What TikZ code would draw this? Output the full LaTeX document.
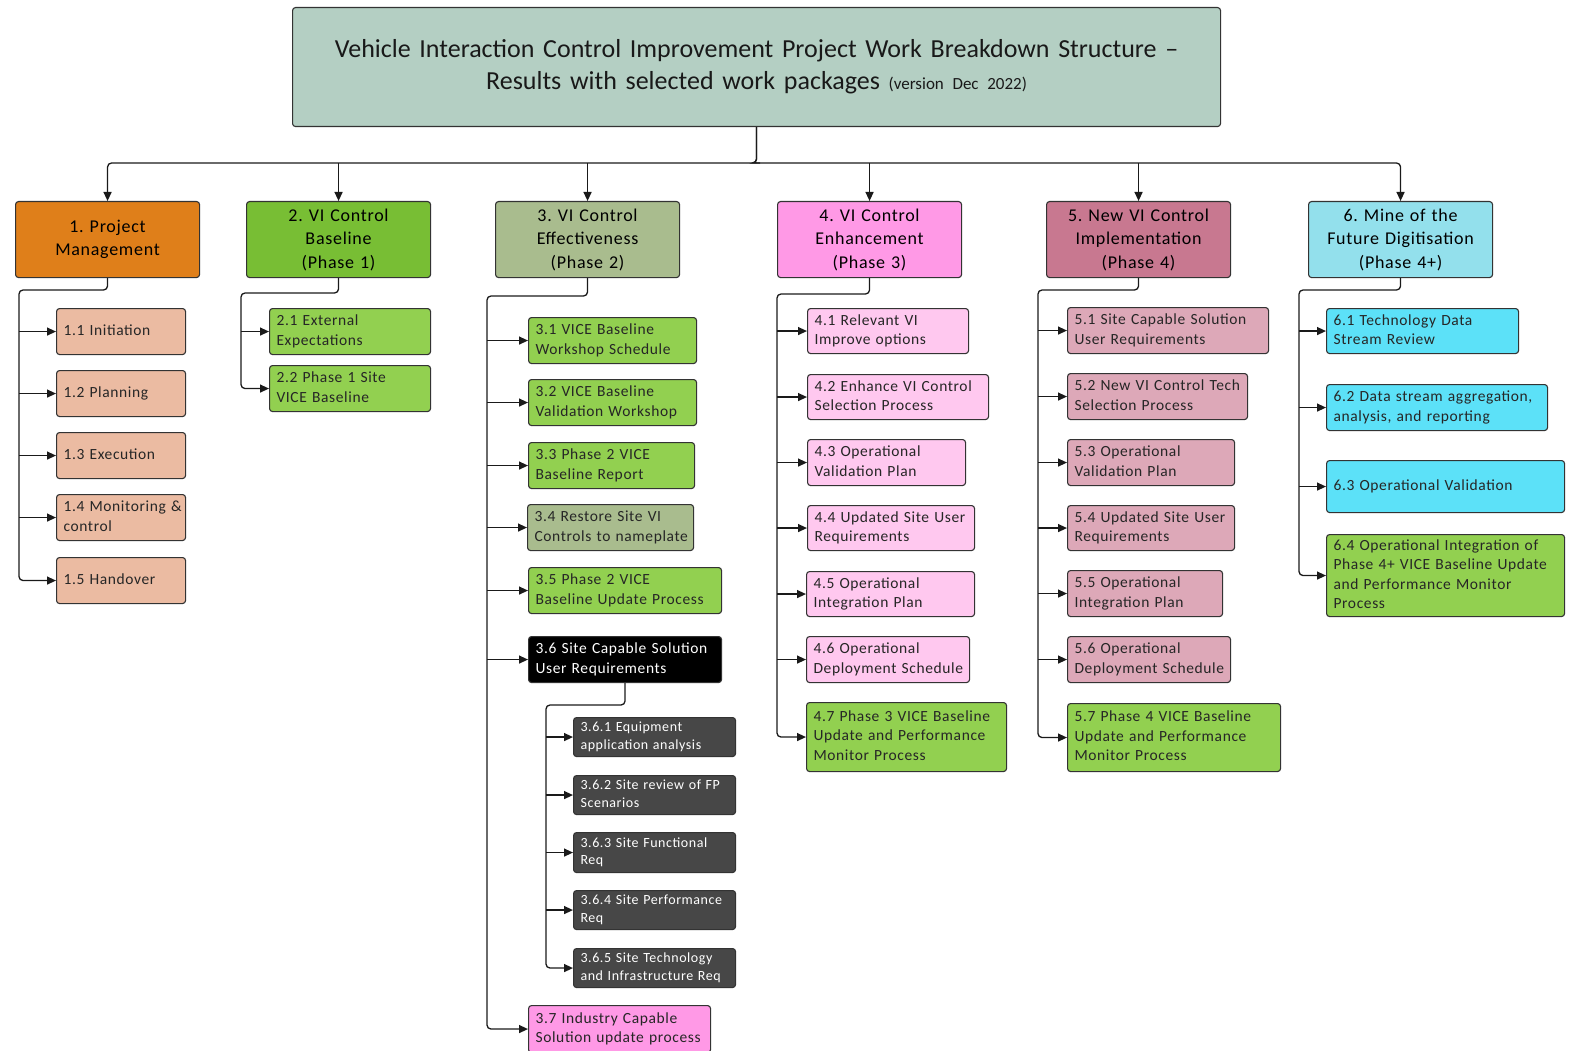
\documentclass[tikz,border=0pt]{standalone}
\usepackage{fontspec}
\setmainfont{Carlito}[LetterSpace=4]
\newfontfamily\titlefont{Carlito}
\usetikzlibrary{arrows.meta}
\definecolor{ttlfill}{HTML}{B4CFC3}
\definecolor{horange}{HTML}{DF7F1A}
\definecolor{hgreen}{HTML}{78BE34}
\definecolor{hsage}{HTML}{A9BC8E}
\definecolor{hpink}{HTML}{FF99E6}
\definecolor{hmauve}{HTML}{C87890}
\definecolor{hcyan}{HTML}{93E0EC}
\definecolor{cpeach}{HTML}{EBBBA2}
\definecolor{cgreen}{HTML}{92D050}
\definecolor{cdark}{HTML}{474747}
\definecolor{clpink}{HTML}{FFC8EF}
\definecolor{cmauve}{HTML}{DDA8B8}
\definecolor{ccyan}{HTML}{5CE1F8}
\definecolor{linec}{HTML}{1A1A1A}
\definecolor{borderc}{HTML}{333333}
\tikzset{
  conn/.style={draw=linec, line width=1.3pt},
  tip/.style={-{Triangle[length=9pt,width=8pt]}},
  box/.style={draw=borderc, line width=1.1pt, rounded corners=3pt},
  head/.style={box, align=center, font=\fontsize{18}{23.5}\selectfont, text=black},
  kid/.style={box, align=left, font=\fontsize{15.5}{19.5}\selectfont, text=black!85},
  sub/.style={box, fill=cdark, align=left, font=\fontsize{14}{17.5}\selectfont, text=white},
}
\newcommand\wbsbox[7]{%
  \pgfmathsetmacro\wbstw{#5-14}%
  \node[#2, anchor=north west, minimum width=#5pt, minimum height=#6pt,
        text width=\wbstw pt, inner xsep=7pt, inner ysep=0pt] (#1) at (#3,#4) {#7};}
\newcommand\wbskid[7]{%
  \pgfmathsetmacro\wbstw{#5-14}%
  \node[#2, anchor=north west, minimum width=#5pt, minimum height=#6pt,
        text width=\wbstw pt, inner xsep=7pt, inner ysep=0pt] (#1) at (#3,#4)
        {\begin{tabular}{@{}l@{}}#7\end{tabular}};}
\frenchspacing
\begin{document}
\begin{tikzpicture}[x=1pt,y=-1pt]
\useasboundingbox (0,0) rectangle (1572,1051);
% title
\wbsbox{title}{box, fill=ttlfill, align=center, text=black!90, font=\titlefont\fontsize{26}{32}\selectfont}{292}{7}{928}{119}{Vehicle Interaction Control Improvement Project Work Breakdown Structure –\\Results with selected work packages {\fontsize{17}{17}\selectfont(version Dec 2022)}}
% headers
\wbsbox{h1}{head, fill=horange}{15}{201}{184}{76}{1. Project\\Management}
\wbsbox{h2}{head, fill=hgreen}{246}{201}{184}{76}{2. VI Control\\Baseline\\(Phase 1)}
\wbsbox{h3}{head, fill=hsage}{495}{201}{184}{76}{3. VI Control\\Effectiveness\\(Phase 2)}
\wbsbox{h4}{head, fill=hpink}{777}{201}{184}{76}{4. VI Control\\Enhancement\\(Phase 3)}
\wbsbox{h5}{head, fill=hmauve}{1046}{201}{184}{76}{5. New VI Control\\Implementation\\(Phase 4)}
\wbsbox{h6}{head, fill=hcyan}{1308}{201}{184}{76}{6. Mine of the\\Future Digitisation\\(Phase 4+)}
% column 1
\wbskid{c11}{kid, fill=cpeach}{56}{308}{129}{46}{1.1 Initiation}
\wbskid{c12}{kid, fill=cpeach}{56}{370}{129}{46}{1.2 Planning}
\wbskid{c13}{kid, fill=cpeach}{56}{432}{129}{46}{1.3 Execution}
\wbskid{c14}{kid, fill=cpeach}{56}{494}{129}{46}{1.4 Monitoring \&\\control}
\wbskid{c15}{kid, fill=cpeach}{56}{557}{129}{46}{1.5 Handover}
% column 2
\wbskid{c21}{kid, fill=cgreen}{269}{308}{161}{46}{2.1 External\\Expectations}
\wbskid{c22}{kid, fill=cgreen}{269}{365}{161}{46}{2.2 Phase 1 Site\\VICE Baseline}
% column 3
\wbskid{c31}{kid, fill=cgreen}{528}{317}{168}{46}{3.1 VICE Baseline\\Workshop Schedule}
\wbskid{c32}{kid, fill=cgreen}{528}{379}{168}{46}{3.2 VICE Baseline\\Validation Workshop}
\wbskid{c33}{kid, fill=cgreen}{528}{442}{166}{46}{3.3 Phase 2 VICE\\Baseline Report}
\wbskid{c34}{kid, fill=hsage}{527}{504}{166}{46}{3.4 Restore Site VI\\Controls to nameplate}
\wbskid{c35}{kid, fill=cgreen}{528}{567}{193}{46}{3.5 Phase 2 VICE\\Baseline Update Process}
\wbskid{c36}{kid, fill=black, text=white}{528}{636}{193}{46}{3.6 Site Capable Solution\\User Requirements}
\wbskid{c361}{sub}{573}{717}{162}{39}{3.6.1 Equipment\\application analysis}
\wbskid{c362}{sub}{573}{775}{162}{39}{3.6.2 Site review of FP\\Scenarios}
\wbskid{c363}{sub}{573}{832}{162}{40}{3.6.3 Site Functional\\Req}
\wbskid{c364}{sub}{573}{890}{162}{39}{3.6.4 Site Performance\\Req}
\wbskid{c365}{sub}{573}{948}{162}{39}{3.6.5 Site Technology\\and Infrastructure Req}
\wbskid{c37}{kid, fill=hpink}{528}{1005}{182}{47}{3.7 Industry Capable\\Solution update process}
% column 4
\wbskid{c41}{kid, fill=clpink}{807}{308}{161}{45}{4.1 Relevant VI\\Improve options}
\wbskid{c42}{kid, fill=clpink}{807}{374}{181}{45}{4.2 Enhance VI Control\\Selection Process}
\wbskid{c43}{kid, fill=clpink}{807}{439}{158}{46}{4.3 Operational\\Validation Plan}
\wbskid{c44}{kid, fill=clpink}{807}{505}{167}{45}{4.4 Updated Site User\\Requirements}
\wbskid{c45}{kid, fill=clpink}{806}{571}{168}{45}{4.5 Operational\\Integration Plan}
\wbskid{c46}{kid, fill=clpink}{806}{636}{163}{46}{4.6 Operational\\Deployment Schedule}
\wbskid{c47}{kid, fill=cgreen}{806}{702}{200}{69}{4.7 Phase 3 VICE Baseline\\Update and Performance\\Monitor Process}
% column 5
\wbskid{c51}{kid, fill=cmauve}{1067}{307}{201}{46}{5.1 Site Capable Solution\\User Requirements}
\wbskid{c52}{kid, fill=cmauve}{1067}{373}{180}{46}{5.2 New VI Control Tech\\Selection Process}
\wbskid{c53}{kid, fill=cmauve}{1067}{439}{167}{46}{5.3 Operational\\Validation Plan}
\wbskid{c54}{kid, fill=cmauve}{1067}{505}{167}{45}{5.4 Updated Site User\\Requirements}
\wbskid{c55}{kid, fill=cmauve}{1067}{570}{155}{46}{5.5 Operational\\Integration Plan}
\wbskid{c56}{kid, fill=cmauve}{1067}{636}{163}{46}{5.6 Operational\\Deployment Schedule}
\wbskid{c57}{kid, fill=cgreen}{1067}{703}{213}{68}{5.7 Phase 4 VICE Baseline\\Update and Performance\\Monitor Process}
% column 6
\wbskid{c61}{kid, fill=ccyan}{1326}{308}{192}{45}{6.1 Technology Data\\Stream Review}
\wbskid{c62}{kid, fill=ccyan}{1326}{384}{221}{46}{6.2 Data stream aggregation,\\analysis, and reporting}
\wbskid{c63}{kid, fill=ccyan}{1326}{460}{238}{52}{6.3 Operational Validation}
\wbskid{c64}{kid, fill=cgreen}{1326}{534}{238}{82}{6.4 Operational Integration of\\Phase 4+ VICE Baseline Update\\and Performance Monitor\\Process}
% coordinates
\coordinate (bus) at (756,163);
\coordinate (s1) at (19,290);
\coordinate (s2) at (241,293);
\coordinate (s3) at (487,296);
\coordinate (s36) at (546,705);
\coordinate (s4) at (777,294);
\coordinate (s5) at (1038,290);
\coordinate (s6) at (1299,290);
% top bus
\draw[conn, tip, rounded corners=4pt] (title.south) |- (bus) -| (h1.north);
\draw[conn, tip, rounded corners=4pt] (title.south) |- (bus) -| (h6.north);
\foreach \h in {h2,h3,h4,h5}{\draw[conn, tip] (\h.north |- bus) -- (\h.north);}
% column spines
\draw[conn, tip, rounded corners=4pt] (h1.south) |- (s1) |- (c15.west);
\foreach \c in {c11,c12,c13,c14}{\draw[conn, tip] (s1 |- \c.west) -- (\c.west);}
\draw[conn, tip, rounded corners=4pt] (h2.south) |- (s2) |- (c22.west);
\draw[conn, tip] (s2 |- c21.west) -- (c21.west);
\draw[conn, tip, rounded corners=4pt] (h3.south) |- (s3) |- (c37.west);
\foreach \c in {c31,c32,c33,c34,c35,c36}{\draw[conn, tip] (s3 |- \c.west) -- (\c.west);}
\draw[conn, tip, rounded corners=4pt] (c36.south) |- (s36) |- (c365.west);
\foreach \c in {c361,c362,c363,c364}{\draw[conn, tip] (s36 |- \c.west) -- (\c.west);}
\draw[conn, tip, rounded corners=4pt] (h4.south) |- (s4) |- (c47.west);
\foreach \c in {c41,c42,c43,c44,c45,c46}{\draw[conn, tip] (s4 |- \c.west) -- (\c.west);}
\draw[conn, tip, rounded corners=4pt] (h5.south) |- (s5) |- (c57.west);
\foreach \c in {c51,c52,c53,c54,c55,c56}{\draw[conn, tip] (s5 |- \c.west) -- (\c.west);}
\draw[conn, tip, rounded corners=4pt] (h6.south) |- (s6) |- (c64.west);
\foreach \c in {c61,c62,c63}{\draw[conn, tip] (s6 |- \c.west) -- (\c.west);}
\end{tikzpicture}
\end{document}
